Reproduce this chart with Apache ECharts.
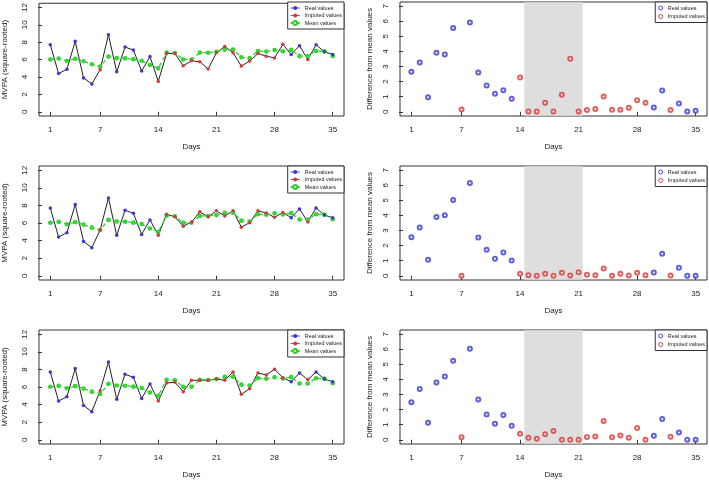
<!DOCTYPE html>
<html><head><meta charset="utf-8">
<script src="https://cdn.jsdelivr.net/npm/echarts@6/dist/echarts.min.js"></script>
<style>html,body{margin:0;padding:0;background:#fff}#c{width:709px;height:482px}</style>
</head><body><div id="c"></div>
<script>
// ---------------- data ----------------
const days = [1,2,3,4,5,6,7,8,9,10,11,12,13,14,15,16,17,18,19,20,21,22,23,24,25,26,27,28,29,30,31,32,33,34,35];
const realDays = [1,2,3,4,5,6,8,9,10,11,12,13,30,31,33,34,35];
const realValues = [7.7,4.4,4.9,8.1,3.9,3.2,8.85,4.6,7.45,7.1,4.7,6.35,6.6,7.6,7.7,6.9,6.6];
const imputedDays = [7,14,15,16,17,18,19,20,21,22,23,24,25,26,27,28,29,32];
const imputedValues1 = [4.85,3.5,6.7,6.7,5.3,5.87,5.75,4.92,6.78,7.5,6.8,5.26,5.83,6.7,6.4,6.2,7.76,6.02];
const imputedValues2 = [5.2,4.62,7.0,6.7,5.64,6.1,7.27,6.7,7.38,6.8,7.38,5.53,6.04,7.38,7.14,6.64,7.2,6.12];
const imputedValues3 = [5.58,4.4,6.46,6.53,5.47,6.76,6.76,6.76,6.91,6.76,7.71,5.17,5.81,7.6,7.37,8.01,7.06,6.84];
const meanValues = [6.02,6.13,5.85,6.1,5.82,5.47,5.2,6.35,6.17,6.15,6.04,5.88,5.38,5.0,6.82,6.76,6.02,6.02,6.81,6.8,6.9,7.15,7.17,6.27,6.17,7.0,6.93,7.1,6.96,7.12,6.4,6.4,7.0,6.95,6.43];
const diffValues1 = [2.65,3.27,0.97,3.91,3.8,5.56,0.15,5.92,2.6,1.74,1.19,1.43,0.86,2.27,0.02,0.02,0.6,0.02,1.13,3.51,0.02,0.11,0.18,1.02,0.13,0.13,0.26,0.77,0.6,0.29,1.41,0.11,0.55,0.02,0.07];
const diffValues2 = [2.56,3.2,1.06,3.89,4.02,5.03,0,6.16,2.54,1.72,1.13,1.55,1.02,0.13,0.04,0,0.13,0,0.2,0.02,0.24,0.07,0.04,0.49,0,0.13,0.02,0.2,0.04,0.22,1.46,0.02,0.53,0,0];
const diffValues3 = [2.49,3.36,1.13,3.8,4.2,5.24,0.16,6.04,2.67,1.67,1.07,1.64,0.93,0.4,0.13,0.07,0.36,0.58,0,0,0,0.18,0.22,1.24,0.16,0.29,0.13,0.78,0,0.27,1.38,0.2,0.49,0,0];
const xTickValues = [1,7,14,21,28,35];
const leftTickValues = [0,2,4,6,8,10,12];
const rightTickValues = [0,1,2,3,4,5,6,7];
const shadeRange = [14.5, 21.5];
const leftTitle = 'MVPA (square-rooted)';
const rightTitle = 'Difference from mean values';
const xTitle = 'Days';

// ---------------- styling / layout ----------------
const FONT = '"Liberation Sans", Arial, sans-serif';
const TXT = '#222';
const BLUE = '#3838d0', RED = '#d43a3a', GREEN = '#2fd22f', LINE = '#222';
const rowTop = [2, 166, 330], rowH = 114;
const LX = 39, LW = 305, RX = 400, RW = 307;
const imputedSets = [imputedValues1, imputedValues2, imputedValues3];
const diffSets = [diffValues1, diffValues2, diffValues3];

const grids = [], xAxes = [], yAxes = [], series = [], legends = [];

function xAxisCfg(gi) {
  return {
    type: 'value', gridIndex: gi, min: -0.36, max: 36.36,
    axisLine: {show: false}, splitLine: {show: false},
    axisTick: {show: true, customValues: xTickValues, length: 4, lineStyle: {color: '#333'}},
    axisLabel: {customValues: xTickValues, fontSize: 8, color: TXT, fontFamily: FONT, margin: 10},
    name: xTitle, nameLocation: 'middle', nameGap: 27,
    nameTextStyle: {fontSize: 8, color: TXT, fontFamily: FONT}
  };
}
function yAxisCfg(gi, mn, mx, ticks, title, gap) {
  return {
    type: 'value', gridIndex: gi, min: mn, max: mx,
    axisLine: {show: false}, splitLine: {show: false},
    axisTick: {show: true, customValues: ticks, length: 4, lineStyle: {color: '#333'}},
    axisLabel: {customValues: ticks, fontSize: 8, color: TXT, fontFamily: FONT, rotate: 90, margin: 10},
    name: title, nameLocation: 'middle', nameGap: gap,
    nameTextStyle: {fontSize: 8, color: TXT, fontFamily: FONT}
  };
}

for (let r = 0; r < 3; r++) {
  const gl = 2 * r, gr = 2 * r + 1;
  grids.push({left: LX, top: rowTop[r], width: LW, height: rowH, show: true, borderColor: '#333', borderWidth: 1, backgroundColor: 'transparent'});
  grids.push({left: RX, top: rowTop[r], width: RW, height: rowH, show: true, borderColor: '#333', borderWidth: 1, backgroundColor: 'transparent'});
  xAxes.push(xAxisCfg(gl)); xAxes.push(xAxisCfg(gr));
  yAxes.push(yAxisCfg(gl, -0.48, 12.48, leftTickValues, leftTitle, 30));
  yAxes.push(yAxisCfg(gr, -0.28, 7.28, rightTickValues, rightTitle, 26));

  const imp = imputedSets[r];
  const full = days.map(d => {
    const i = realDays.indexOf(d);
    return [d, i >= 0 ? realValues[i] : imp[imputedDays.indexOf(d)]];
  });
  series.push({type: 'line', name: 'path', xAxisIndex: gl, yAxisIndex: gl, data: full,
    symbol: 'none', lineStyle: {color: LINE, width: 1}, silent: true, z: 2});
  series.push({type: 'line', name: 'Mean values', xAxisIndex: gl, yAxisIndex: gl,
    data: days.map((d, i) => [d, meanValues[i]]),
    symbol: 'emptyCircle', symbolSize: 2.6, showAllSymbol: true,
    lineStyle: {color: GREEN, width: 1.3, type: [4, 3]},
    itemStyle: {color: GREEN, borderWidth: 0.8}, z: 3});
  series.push({type: 'line', name: 'Real values', xAxisIndex: gl, yAxisIndex: gl,
    data: realDays.map((d, i) => [d, realValues[i]]),
    symbol: 'circle', symbolSize: 3.5, showAllSymbol: true,
    lineStyle: {width: 0, color: BLUE}, itemStyle: {color: BLUE}, z: 4});
  series.push({type: 'line', name: 'Imputed values', xAxisIndex: gl, yAxisIndex: gl,
    data: imputedDays.map((d, i) => [d, imp[i]]),
    symbol: 'circle', symbolSize: 3.5, showAllSymbol: true,
    lineStyle: {width: 0, color: RED}, itemStyle: {color: RED}, z: 4});

  const diff = diffSets[r];
  series.push({type: 'scatter', name: 'shade', xAxisIndex: gr, yAxisIndex: gr, data: [], z: 1, silent: true,
    markArea: {silent: true, itemStyle: {color: '#dedede'},
      data: [[{xAxis: shadeRange[0], yAxis: -0.27}, {xAxis: shadeRange[1], yAxis: 7.27}]]}});
  series.push({type: 'scatter', name: 'Real values', xAxisIndex: gr, yAxisIndex: gr,
    data: realDays.map(d => [d, diff[days.indexOf(d)]]),
    symbol: 'emptyCircle', symbolSize: 4, itemStyle: {color: BLUE, borderWidth: 0.8}, z: 4});
  series.push({type: 'scatter', name: 'Imputed values', xAxisIndex: gr, yAxisIndex: gr,
    data: imputedDays.map(d => [d, diff[days.indexOf(d)]]),
    symbol: 'emptyCircle', symbolSize: 4, itemStyle: {color: RED, borderWidth: 0.8}, z: 4});

  const legBase = {orient: 'vertical', top: rowTop[r], padding: [3, 2], itemGap: 1.5,
    borderColor: '#333', borderWidth: 1, backgroundColor: '#fff', selectedMode: false, z: 10,
    textStyle: {fontSize: 5.5, color: TXT, fontFamily: FONT}};
  legends.push(Object.assign({}, legBase, {right: 709 - (LX + LW), itemWidth: 9, itemHeight: 5,
    data: [
      {name: 'Real values', lineStyle: {color: BLUE, width: 1, opacity: 1}, itemStyle: {color: BLUE}},
      {name: 'Imputed values', lineStyle: {color: RED, width: 1, opacity: 1}, itemStyle: {color: RED}},
      {name: 'Mean values', itemStyle: {borderWidth: 0.8}}
    ]}));
  legends.push(Object.assign({}, legBase, {right: 709 - (RX + RW), itemWidth: 4, itemHeight: 4,
    itemGap: 2.5, padding: [3, 2, 3, 3],
    data: [
      {name: 'Real values', icon: 'circle', itemStyle: {color: '#fff', borderColor: BLUE, borderWidth: 0.9}},
      {name: 'Imputed values', icon: 'circle', itemStyle: {color: '#fff', borderColor: RED, borderWidth: 0.9}}
    ]}));
}

const chart = echarts.init(document.getElementById('c'), null, {renderer: 'canvas'});
chart.setOption({
  animation: false,
  backgroundColor: '#fff',
  grid: grids, xAxis: xAxes, yAxis: yAxes, series: series, legend: legends
});
</script></body></html>
